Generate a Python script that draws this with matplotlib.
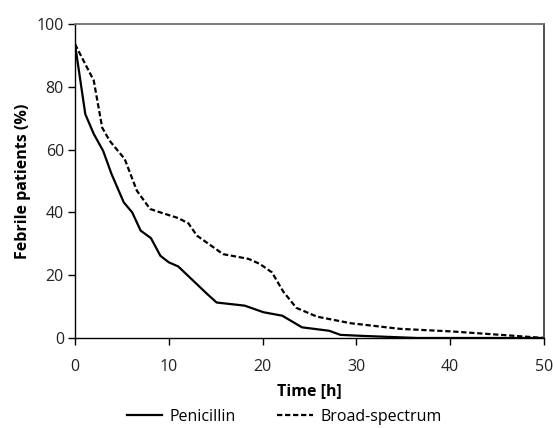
import matplotlib.pyplot as plt

plt.rcParams['font.family'] = ['Open Sans', 'DejaVu Sans']

# time (h) and febrile patients (%)
t_pen = [0, 1.1, 2.0, 3.0, 3.9, 5.2, 6.1, 7.0, 8.1, 9.1, 10.0, 11.0, 12.8, 14.1,
         15.1, 18.1, 20.1, 22.1, 24.2, 27.1, 28.3, 30.4, 36.5, 50]
y_pen = [93.6, 71.3, 65, 59.6, 52.2, 43.2, 40, 34.2, 31.8, 26.2, 24.1, 22.8, 17.7, 14,
         11.3, 10.3, 8.2, 7.1, 3.4, 2.3, 1.0, 0.7, 0, 0]

t_bro = [0, 2.0, 2.9, 3.7, 5.3, 6.6, 8.0, 9.1, 11.0, 12.1, 13.0, 15.8, 18.5, 19.7,
         21.0, 22.2, 23.6, 25.8, 29.4, 34.7, 40.1, 45.4, 50]
y_bro = [93.6, 82, 67, 62.8, 57, 46.9, 41.1, 40, 38.2, 36.5, 32.6, 26.7, 25.2, 23.6,
         20.9, 14.8, 9.6, 6.8, 4.7, 2.9, 2.1, 1.0, 0]

fig = plt.figure(figsize=(5.53, 4.28), dpi=100)
ax = fig.add_axes([0.1356, 0.2103, 0.848, 0.7336])

ax.plot(t_pen, y_pen, color='black', lw=1.6, label='Penicillin')
ax.plot(t_bro, y_bro, color='black', lw=1.6, ls=(0, (2.4, 1.2)), label='Broad-spectrum')

ax.set_xlim(0, 50)
ax.set_ylim(0, 100)
ax.set_xticks(range(0, 51, 10))
ax.set_yticks(range(0, 101, 20))
ax.tick_params(direction='out', length=5, width=1, labelsize=11.5, colors='black',
               labelcolor='#222222')
ax.tick_params(axis='x', pad=10)
ax.tick_params(axis='y', pad=3)
ax.spines['left'].set_linewidth(1)
ax.spines['bottom'].set_linewidth(1)
ax.spines['top'].set_color('#707070')
ax.spines['top'].set_linewidth(1.3)
ax.spines['right'].set_color('#404040')
ax.spines['right'].set_linewidth(1.3)

ax.set_xlabel('Time [h]', fontsize=11.5, fontweight='bold', labelpad=6)
ax.set_ylabel('Febrile patients (%)', fontsize=11.5, fontweight='bold', labelpad=4)

fig.legend(loc='center', bbox_to_anchor=(0.514, 0.026), ncol=2, frameon=False,
           fontsize=11.5, handlelength=2.2, columnspacing=2.6, handletextpad=0.5)

fig.savefig('out.png', dpi=100)
